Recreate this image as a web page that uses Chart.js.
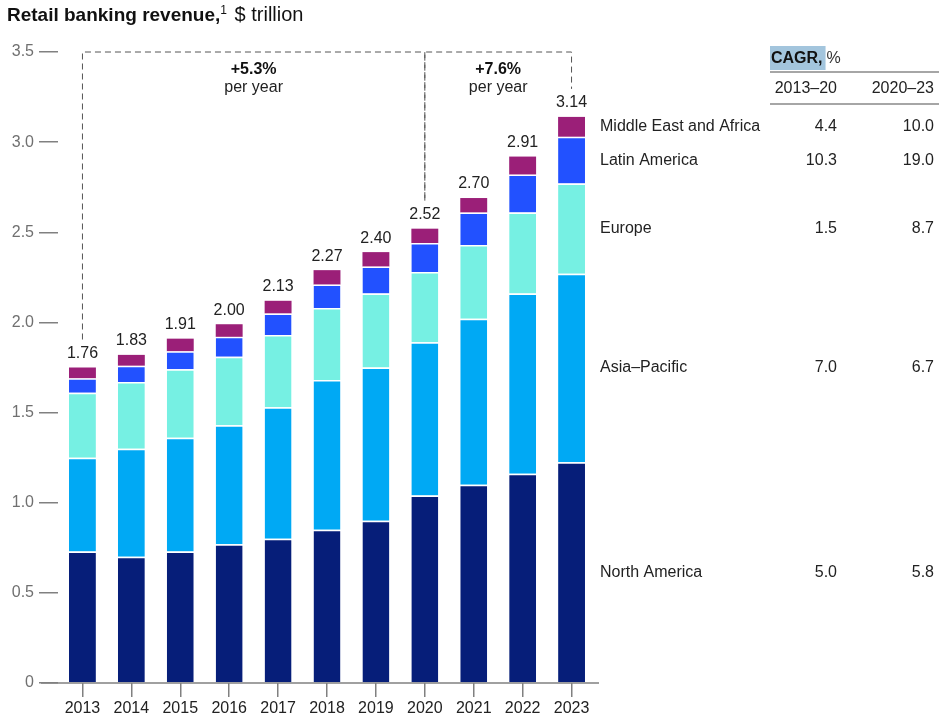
<!DOCTYPE html>
<html lang="en">
<head>
    <meta charset="UTF-8">
    <title>Retail banking revenue</title>
    <script src="https://cdn.jsdelivr.net/npm/chart.js"></script>
    <style>
        body { margin: 0; background: #fff; font-family: "Liberation Sans", Arial, sans-serif; }
        .wrap { position: relative; width: 945px; height: 718px; }
        .title {
            position: absolute; left: 7px; top: 3px;
            font-size: 19px; color: #111; line-height: 23px;
        }
        .title b { font-weight: bold; }
        .title sup { font-size: 12px; vertical-align: 7px; line-height: 0; margin-right: 2px; }
        .title .unit { font-size: 20px; }
    </style>
</head>
<body>
<div class="wrap">
    <div class="title"><b>Retail banking revenue,</b><sup>1</sup><span class="unit"> $ trillion</span></div>
    <canvas id="revenueChart"></canvas>
</div>

<script>
    // values, $ trillion
    const years = ['2013', '2014', '2015', '2016', '2017', '2018', '2019', '2020', '2021', '2022', '2023'];
    const northAmerica     = [0.73, 0.70, 0.73, 0.77, 0.80, 0.85, 0.90, 1.04, 1.10, 1.16, 1.225];
    const asiaPacific      = [0.52, 0.60, 0.63, 0.66, 0.73, 0.83, 0.85, 0.85, 0.92, 1.00, 1.045];
    const europe           = [0.36, 0.37, 0.38, 0.38, 0.40, 0.40, 0.41, 0.39, 0.41, 0.45, 0.50];
    const latinAmerica     = [0.08, 0.09, 0.10, 0.11, 0.12, 0.13, 0.15, 0.16, 0.18, 0.21, 0.26];
    const middleEastAfrica = [0.06, 0.06, 0.07, 0.07, 0.07, 0.08, 0.08, 0.08, 0.08, 0.10, 0.11];
    const totalLabels = ['1.76', '1.83', '1.91', '2.00', '2.13', '2.27', '2.40', '2.52', '2.70', '2.91', '3.14'];

    // CAGR table, bottom-up in stack order
    const regions  = ['North America', 'Asia\u2013Pacific', 'Europe', 'Latin America', 'Middle East and Africa'];
    const cagr1320 = ['5.0', '7.0', '1.5', '10.3', '4.4'];
    const cagr2023 = ['5.8', '6.7', '8.7', '19.0', '10.0'];
    const periods  = ['2013\u201320', '2020\u201323'];
    const brackets = [
        { from: 0, to: 7, rate: '+5.3%' },
        { from: 7, to: 10, rate: '+7.6%' }
    ];

    const colors = ['#061e79', '#00a9f4', '#76f0e3', '#2251ff', '#9b1f78'];
    const FONT = '"Liberation Sans", Arial, sans-serif';

    const series = [northAmerica, asiaPacific, europe, latinAmerica, middleEastAfrica];
    const datasets = series.map((vals, i) => ({
        label: regions[i],
        data: vals,
        backgroundColor: colors[i],
        borderColor: '#ffffff',
        borderWidth: i < series.length - 1 ? { top: 1.5, bottom: 0, left: 0, right: 0 } : 0,
        borderSkipped: false,
        barPercentage: 0.55,
        categoryPercentage: 1.0
    }));

    const annotations = {
        id: 'annotations',
        afterDraw(chart) {
            const ctx = chart.ctx;
            const x = chart.scales.x;
            const y = chart.scales.y;
            const area = chart.chartArea;
            const topMeta = chart.getDatasetMeta(series.length - 1);

            ctx.save();
            // x axis line, a little wider than the plot
            ctx.strokeStyle = '#808080';
            ctx.lineWidth = 1.5;
            ctx.beginPath();
            ctx.moveTo(area.left - 17, area.bottom);
            ctx.lineTo(area.right + 3, area.bottom);
            ctx.stroke();

            // totals over each stack
            ctx.fillStyle = '#222';
            ctx.font = '16px ' + FONT;
            ctx.textAlign = 'center';
            ctx.textBaseline = 'middle';
            topMeta.data.forEach((bar, i) => {
                ctx.fillText(totalLabels[i], bar.x, bar.y - 14);
            });

            // growth brackets
            const yTop = y.getPixelForValue(3.5);
            ctx.strokeStyle = '#555';
            ctx.lineWidth = 1;
            ctx.setLineDash([6, 4]);
            brackets.forEach(b => {
                const xa = x.getPixelForValue(b.from);
                const xb = x.getPixelForValue(b.to);
                ctx.beginPath();
                ctx.moveTo(xa, topMeta.data[b.from].y - 28);
                ctx.lineTo(xa, yTop);
                ctx.lineTo(xb, yTop);
                ctx.lineTo(xb, topMeta.data[b.to].y - 28);
                ctx.stroke();
            });
            ctx.setLineDash([]);
            brackets.forEach(b => {
                const xm = (x.getPixelForValue(b.from) + x.getPixelForValue(b.to)) / 2;
                ctx.fillStyle = '#111';
                ctx.font = 'bold 16px ' + FONT;
                ctx.fillText(b.rate, xm, yTop + 18);
                ctx.font = '16px ' + FONT;
                ctx.fillStyle = '#222';
                ctx.fillText('per year', xm, yTop + 36);
            });

            // region labels and CAGR values, level with the 2023 segments
            const last = years.length - 1;
            const col1 = 837, col2 = 934;
            ctx.font = '16px ' + FONT;
            ctx.fillStyle = '#222';
            series.forEach((vals, i) => {
                const bar = chart.getDatasetMeta(i).data[last];
                const ym = (bar.y + bar.base) / 2;
                ctx.textAlign = 'left';
                ctx.fillText(regions[i], area.right + 4, ym);
                ctx.textAlign = 'right';
                ctx.fillText(cagr1320[i], col1, ym);
                ctx.fillText(cagr2023[i], col2, ym);
            });

            // table header
            ctx.textAlign = 'left';
            ctx.font = 'bold 16px ' + FONT;
            const w = ctx.measureText('CAGR,').width;
            ctx.fillStyle = '#a3c5dd';
            ctx.fillRect(770, 46, w + 4, 24);
            ctx.fillStyle = '#111';
            ctx.fillText('CAGR,', 771, 59);
            ctx.font = '16px ' + FONT;
            ctx.fillStyle = '#333';
            ctx.fillText('%', 771 + w + 4, 59);
            ctx.textAlign = 'right';
            ctx.fillStyle = '#222';
            ctx.fillText(periods[0], col1, 89);
            ctx.fillText(periods[1], col2, 89);
            ctx.strokeStyle = '#888';
            ctx.lineWidth = 1.5;
            [72, 104].forEach(ly => {
                ctx.beginPath();
                ctx.moveTo(770, ly);
                ctx.lineTo(939, ly);
                ctx.stroke();
            });
            ctx.restore();
        }
    };

    const ctx = document.getElementById('revenueChart').getContext('2d');
    const revenueChart = new Chart(ctx, {
        type: 'bar',
        data: { labels: years, datasets: datasets },
        options: {
            responsive: true,
            maintainAspectRatio: false,
            animation: false,
            layout: { padding: { top: 52, right: 349, left: 0, bottom: 0 } },
            plugins: {
                legend: { display: false },
                title: { display: false },
                tooltip: { enabled: false }
            },
            scales: {
                x: {
                    stacked: true,
                    border: { display: false },
                    grid: { offset: false, drawOnChartArea: false, tickLength: 14, color: '#808080', lineWidth: 1.5 },
                    ticks: { color: '#222', font: { size: 16, family: FONT }, padding: 2, maxRotation: 0 },
                    afterFit(scale) { scale.height = 35; }
                },
                y: {
                    stacked: true,
                    min: 0,
                    max: 3.5,
                    border: { display: false },
                    grid: { drawOnChartArea: false, tickLength: 19, color: '#808080', lineWidth: 1.5 },
                    ticks: {
                        stepSize: 0.5,
                        padding: 5,
                        color: '#707070',
                        font: { size: 16, family: FONT },
                        callback: v => v === 0 ? '0' : v.toFixed(1)
                    },
                    afterFit(scale) { scale.width = 58; }
                }
            }
        },
        plugins: [annotations]
    });
</script>
</body>
</html>
